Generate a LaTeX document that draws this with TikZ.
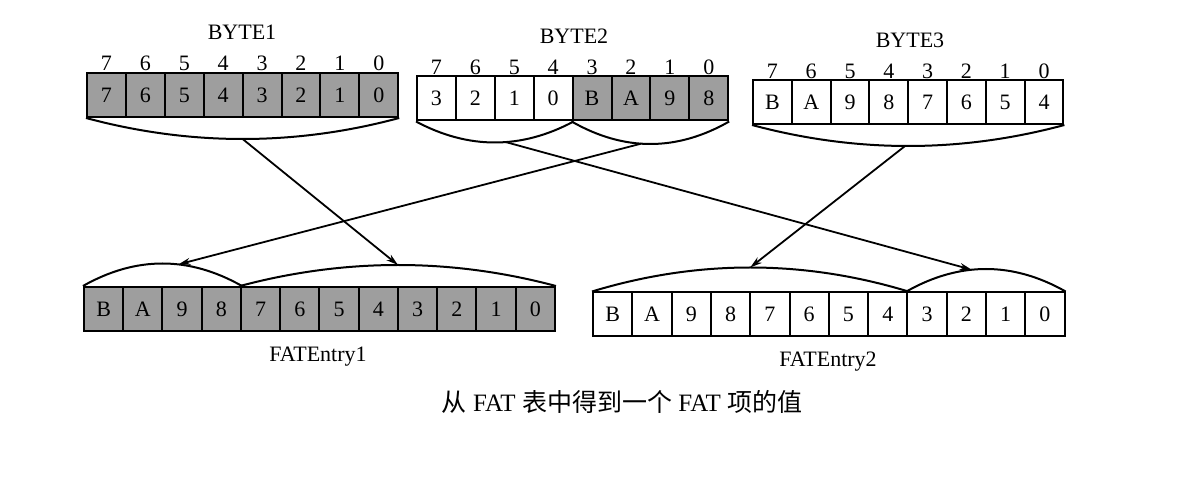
\documentclass[tikz,border=0pt]{standalone}
\usepackage{fontspec}
\setmainfont{Liberation Serif}
\newfontfamily\cjk{Noto Sans CJK SC}
\usetikzlibrary{arrows.meta,calc}
\begin{document}
\begin{tikzpicture}[x=1pt,y=-1pt,
  cell/.style={draw, line width=2pt, minimum width=#1, minimum height=44pt, inner sep=0pt,
    font=\fontsize{22}{22}\selectfont},
  shaded/.style={fill=black!38},
  lbl/.style={inner sep=0pt, font=\fontsize{22}{22}\selectfont},
  arcline/.style={line width=2pt},
  arr/.style={line width=1.8pt, -{Stealth[length=12pt,width=7pt]}}]
\useasboundingbox (0,0) rectangle (1203,502);
% BYTE1
\node[lbl] (t1) at (242,32) {BYTE1};
\foreach \i/\t in {0/7,1/6,2/5,3/4,4/3,5/2,6/1,7/0}{
  \node[cell=38.9pt, shaded] (b1c\i) at (87+38.9*\i+19.45,95) {\t};
  \node[lbl] (b1k\i) at (87+38.9*\i+19.45,63) {\t};
}
% BYTE2
\node[lbl] (t2) at (574,36) {BYTE2};
\foreach \i/\t/\s in {0/3/white,1/2/white,2/1/white,3/0/white,4/B/black!38,5/A/black!38,6/9/black!38,7/8/black!38}{
  \node[cell=38.9pt, fill=\s] (b2c\i) at (417+38.9*\i+19.45,98.5) {\t};
}
\foreach \i/\t in {0/7,1/6,2/5,3/4,4/3,5/2,6/1,7/0}{
  \node[lbl] (b2k\i) at (417+38.9*\i+19.45,67) {\t};
}
% BYTE3
\node[lbl] (t3) at (910,40) {BYTE3};
\foreach \i/\t/\k in {0/B/7,1/A/6,2/9/5,3/8/4,4/7/3,5/6/2,6/5/1,7/4/0}{
  \node[cell=38.8pt] (b3c\i) at (753+38.8*\i+19.4,102) {\t};
  \node[lbl] (b3k\i) at (753+38.8*\i+19.4,71) {\k};
}
% FATEntry1
\foreach \i/\t in {0/B,1/A,2/9,3/8,4/7,5/6,6/5,7/4,8/3,9/2,10/1,11/0}{
  \node[cell=39.25pt, shaded] (e1c\i) at (84+39.25*\i+19.6,309) {\t};
}
\node[lbl] (f1) at (318,357) {FATEntry1};
% FATEntry2
\foreach \i/\t in {0/B,1/A,2/9,3/8,4/7,5/6,6/5,7/4,8/3,9/2,10/1,11/0}{
  \node[cell=39.3pt] (e2c\i) at (593+39.3*\i+19.65,314.5) {\t};
}
\node[lbl] (f2) at (828,362) {FATEntry2};
% caption
\node[inner sep=0pt, font=\fontsize{25}{25}\selectfont] (cap) at (622,402)
  {{\cjk 从} FAT {\cjk 表中得到一个} FAT {\cjk 项的值}};
% arcs below bytes
\draw[arcline] (b1c0.south west) .. controls ($(b1c0.south west)!.333!(b1c7.south east)+(0,28)$) and ($(b1c0.south west)!.667!(b1c7.south east)+(0,28)$) .. (b1c7.south east);
\draw[arcline] (b2c0.south west) .. controls ($(b2c0.south west)!.333!(b2c3.south east)+(0,28)$) and ($(b2c0.south west)!.667!(b2c3.south east)+(0,28)$) .. (b2c3.south east);
\draw[arcline] (b2c4.south west) .. controls ($(b2c4.south west)!.333!(b2c7.south east)+(0,30)$) and ($(b2c4.south west)!.667!(b2c7.south east)+(0,30)$) .. (b2c7.south east);
\draw[arcline] (b3c0.south west) .. controls ($(b3c0.south west)!.333!(b3c7.south east)+(0,28)$) and ($(b3c0.south west)!.667!(b3c7.south east)+(0,28)$) .. (b3c7.south east);
% arcs above entries
\draw[arcline] (e1c0.north west) .. controls ($(e1c0.north west)!.333!(e1c3.north east)+(0,-30)$) and ($(e1c0.north west)!.667!(e1c3.north east)+(0,-30)$) .. (e1c3.north east);
\draw[arcline] (e1c4.north west) .. controls ($(e1c4.north west)!.333!(e1c11.north east)+(0,-28)$) and ($(e1c4.north west)!.667!(e1c11.north east)+(0,-28)$) .. (e1c11.north east);
\draw[arcline] (e2c0.north west) .. controls ($(e2c0.north west)!.333!(e2c7.north east)+(0,-32)$) and ($(e2c0.north west)!.667!(e2c7.north east)+(0,-32)$) .. (e2c7.north east);
\draw[arcline] (e2c8.north west) .. controls ($(e2c8.north west)!.333!(e2c11.north east)+(0,-30)$) and ($(e2c8.north west)!.667!(e2c11.north east)+(0,-30)$) .. (e2c11.north east);
% connector end points on arcs (y = 3t(1-t)c)
\coordinate (s1) at ($(b1c0.south west)!.5!(b1c7.south east)+(0,21)$);
\coordinate (s2r) at ($(b2c4.south west)!.44!(b2c7.south east)+(0,22.2)$);
\coordinate (s2l) at ($(b2c0.south west)!.57!(b2c3.south east)+(0,20.6)$);
\coordinate (s3) at ($(b3c0.south west)!.49!(b3c7.south east)+(0,21)$);
\coordinate (d1r) at ($(e1c4.north west)!.5!(e1c11.north east)+(0,-21)$);
\coordinate (d1l) at ($(e1c0.north west)!.6!(e1c3.north east)+(0,-21.6)$);
\coordinate (d2r) at ($(e2c8.north west)!.41!(e2c11.north east)+(0,-21.8)$);
\coordinate (d2l) at ($(e2c0.north west)!.5!(e2c7.north east)+(0,-24)$);
% connectors
\draw[arr] (s1) -- (d1r);
\draw[arr] (s2r) -- (d1l);
\draw[arr] (s2l) -- (d2r);
\draw[arr] (s3) -- (d2l);
\end{tikzpicture}
\end{document}
